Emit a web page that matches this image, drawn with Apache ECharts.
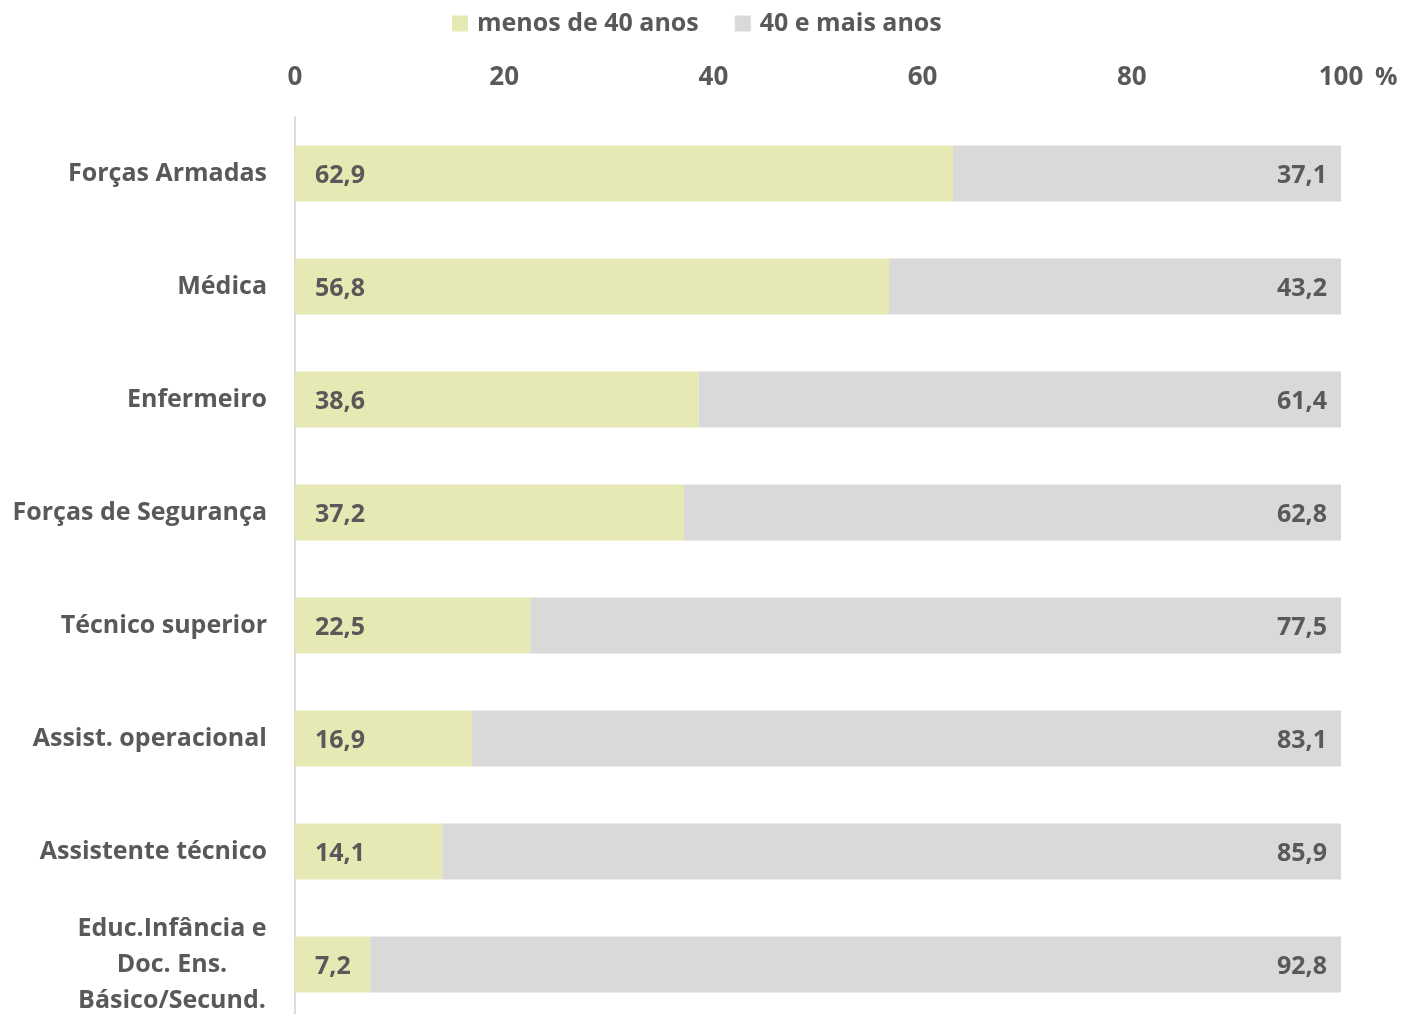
<!DOCTYPE html>
<html><head><meta charset="utf-8">
<script src="https://cdn.jsdelivr.net/npm/echarts@6/dist/echarts.min.js"></script>
<style>html,body{margin:0;padding:0;background:#fff;overflow:hidden}#c{width:1403px;height:1022px}</style>
</head><body><div id="c"></div>
<script>
const categories = ['Forças Armadas','Médica','Enfermeiro','Forças de Segurança','Técnico superior','Assist. operacional','Assistente técnico','Educ.Infância e\nDoc. Ens.\nBásico/Secund.'];
const under40 = [62.9,56.8,38.6,37.2,22.5,16.9,14.1,7.2];
const over40 = [37.1,43.2,61.4,62.8,77.5,83.1,85.9,92.8];
const xTicks = [0,20,40,60,80,100];
const seriesNames = ['menos de 40 anos','40 e mais anos'];

const TXT = '#595959';
const FONT = '"Open Sans", sans-serif';
const W = 'bold';
const fmt = p => p.value.toFixed(1).replace('.', ',');

const chart = echarts.init(document.getElementById('c'));
chart.setOption({
  animation:false,
  textStyle:{fontFamily:FONT},
  legend:{
    top:6, left:447, itemWidth:16, itemHeight:16, itemGap:36,
    icon:'rect',
    textStyle:{color:TXT, fontSize:25, fontWeight:W, fontFamily:FONT, padding:[0,0,0,4]},
    data:seriesNames
  },
  grid:{left:295, top:117, width:1046, height:904, containLabel:false},
  xAxis:{
    type:'value', position:'top', min:xTicks[0], max:xTicks[xTicks.length-1], interval:20,
    axisLine:{show:false}, axisTick:{show:false}, splitLine:{show:false},
    axisLabel:{color:TXT, fontSize:26, fontWeight:W, margin:26, fontFamily:FONT},
    name:'%', nameLocation:'end', nameGap:34,
    nameTextStyle:{color:TXT, fontSize:25, fontWeight:W, verticalAlign:'bottom', padding:[0,0,27,0], fontFamily:FONT}
  },
  yAxis:{
    type:'category', inverse:true, data:categories,
    axisLine:{show:true, lineStyle:{color:'#D0D0D0', width:1.5}},
    axisTick:{show:false},
    axisLabel:{
      color:TXT, fontSize:25, fontWeight:W, margin:28, lineHeight:36, fontFamily:FONT,
      formatter:v => v.indexOf('\n')>=0 ? v.split('\n').map(s=>'{c|'+s+'}').join('\n') : v,
      rich:{c:{width:190, align:'center', color:TXT, fontSize:25, fontWeight:W, lineHeight:36, fontFamily:FONT}}
    }
  },
  series:[
    {name:seriesNames[0], type:'bar', stack:'t', data:under40, barWidth:56,
     itemStyle:{color:'#E6E9B4'},
     label:{show:true, position:'insideLeft', distance:20, offset:[0,2], formatter:fmt, color:TXT, fontSize:25, fontWeight:W, fontFamily:FONT}},
    {name:seriesNames[1], type:'bar', stack:'t', data:over40, barWidth:56,
     itemStyle:{color:'#D9D9D9'},
     label:{show:true, position:'insideRight', distance:14, offset:[0,2], formatter:fmt, color:TXT, fontSize:25, fontWeight:W, fontFamily:FONT}}
  ]
});
</script></body></html>
